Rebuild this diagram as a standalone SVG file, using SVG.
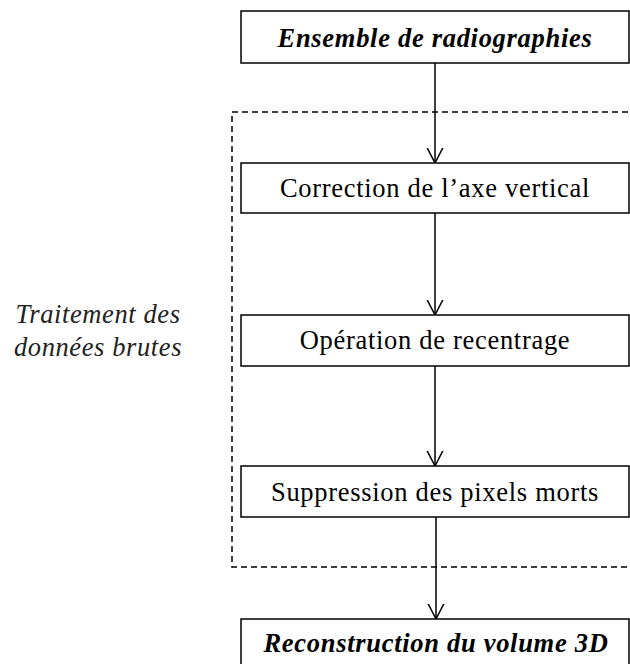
<svg xmlns="http://www.w3.org/2000/svg" width="630" height="664" viewBox="0 0 630 664">
<defs>
<style>
.box{fill:#fff;stroke:#000;stroke-width:1.5}
.t{font-family:"Liberation Serif","Times New Roman",serif;font-size:26.5px;fill:#000;text-anchor:middle;letter-spacing:0.7px}
.bi{font-weight:bold;font-style:italic;font-size:26.5px;letter-spacing:0.7px}
.lbl{font-family:"Liberation Serif","Times New Roman",serif;font-style:italic;font-size:26.5px;fill:#222;text-anchor:middle;letter-spacing:0.6px}
.c{stroke:#000;stroke-width:1.5;fill:none}
</style>
<marker id="ah" viewBox="0 0 16 18" refX="15.5" refY="9" markerWidth="16" markerHeight="18" markerUnits="userSpaceOnUse" orient="auto">
<path d="M0,1 L15.5,9 L0,17" fill="none" stroke="#000" stroke-width="1.5"/>
</marker>
</defs>
<rect width="630" height="664" fill="#fff"/>
<g id="group-traitement">
<rect x="232" y="112" width="410" height="455" fill="none" stroke="#000" stroke-width="1.5" stroke-dasharray="6,4"/>
<text class="lbl" x="98" y="323">Traitement des</text>
<text class="lbl" x="98" y="356">données brutes</text>
</g>
<g id="connectors">
<line class="c" x1="435" y1="63" x2="435" y2="163" marker-end="url(#ah)"/>
<line class="c" x1="435" y1="213" x2="435" y2="315" marker-end="url(#ah)"/>
<line class="c" x1="435" y1="366" x2="435" y2="466" marker-end="url(#ah)"/>
<line class="c" x1="436" y1="517" x2="436" y2="619" marker-end="url(#ah)"/>
</g>
<g id="n1">
<rect class="box" x="241" y="11" width="388" height="52"/>
<text class="t bi" x="435" y="47">Ensemble de radiographies</text>
</g>
<g id="n2">
<rect class="box" x="241" y="163" width="388" height="50"/>
<text class="t" x="435" y="197">Correction de l’axe vertical</text>
</g>
<g id="n3">
<rect class="box" x="241" y="315" width="388" height="51"/>
<text class="t" x="435" y="349">Opération de recentrage</text>
</g>
<g id="n4">
<rect class="box" x="241" y="466" width="388" height="51"/>
<text class="t" x="435" y="501">Suppression des pixels morts</text>
</g>
<g id="n5">
<rect class="box" x="241" y="619" width="388" height="60"/>
<text class="t bi" x="436" y="652">Reconstruction du volume 3D</text>
</g>
</svg>
